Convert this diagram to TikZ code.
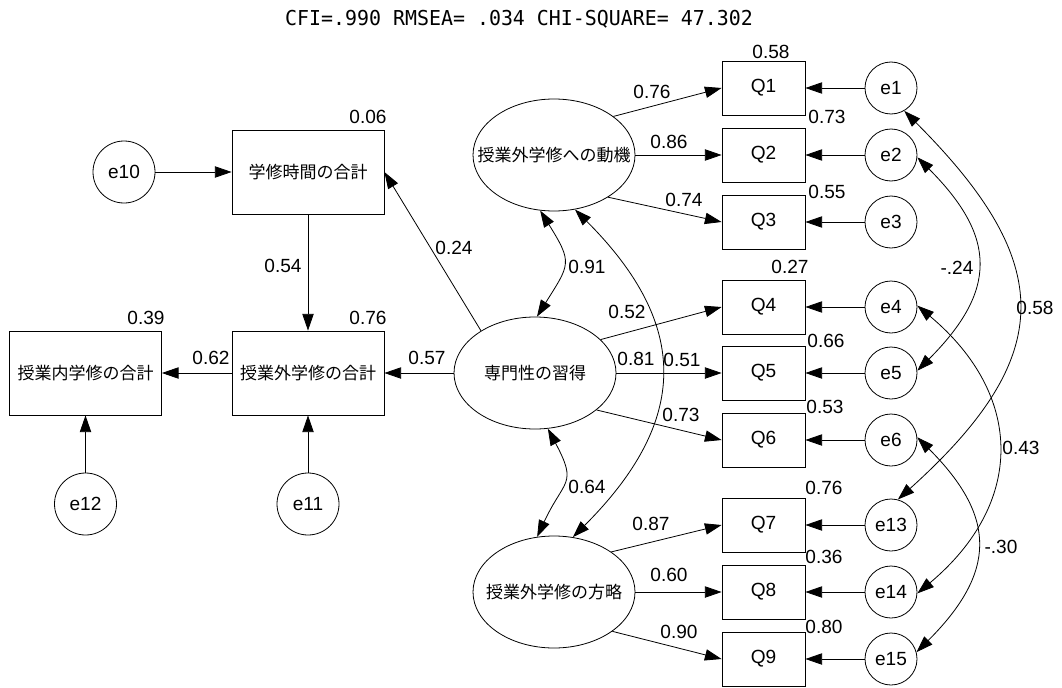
\documentclass[tikz,border=0pt]{standalone}
\usepackage{graphicx}
\usepackage{fontspec}
\setmainfont{Liberation Sans}
\newfontfamily\jp{Noto Sans CJK JP}
\newfontfamily\ttl{DejaVu Sans Mono}
\usetikzlibrary{arrows.meta,shapes.geometric}
\begin{document}
\begin{tikzpicture}[x=0.75pt,y=0.75pt,
  every node/.style={font=\fontsize{14.3}{16}\selectfont, inner sep=0pt},
  obs/.style={draw, rectangle, minimum width=62.25pt, minimum height=40.5pt, line width=0.6pt},
  big/.style={draw, rectangle, minimum width=114pt, minimum height=63pt, line width=0.6pt, font=\jp\fontsize{12.75}{15}\selectfont},
  lat/.style={draw, ellipse, minimum width=121.5pt, minimum height=84pt, line width=0.6pt},
  jpl/.style={font=\jp\fontsize{12.75}{15}\selectfont},
  err/.style={draw, circle, minimum size=39pt, line width=0.6pt},
  errb/.style={draw, circle, minimum size=46.5pt, line width=0.6pt},
  arr/.style={-{Triangle[length=12.5pt,width=8.5pt]}, line width=0.6pt},
  cov/.style={{Triangle[length=12.5pt,width=8.5pt]}-{Triangle[length=12.5pt,width=8.5pt]}, line width=0.6pt}]
\useasboundingbox (0,0) rectangle (1062,687);

\node[font=\ttl\fontsize{15.4}{18}\selectfont] (title) at (519,668) {\scalebox{0.97}[1]{CFI=.990 RMSEA= .034 CHI-SQUARE= 47.302}};

% observed indicators and errors
\foreach \n/\y in {1/599,2/532,3/465,4/380,5/314,6/247,7/162,8/95,9/28} {
  \node[obs] (q\n) at (763.5,\y) {Q\n};
}
\foreach \n/\m/\y in {1/1/599,2/2/532,3/3/465,4/4/380,5/5/314,6/6/247,13/7/162,14/8/95,15/9/28} {
  \node[err] (e\n) at (891,\y) {e\n};
  \draw[arr] (e\n) -- (q\m);
}

% latent factors
\node[lat] (f1) at (554,532) {};
\node[jpl] (f1t) at (f1) {授業外学修への動機};
\node[lat] (f2) at (535,314) {};
\node[jpl] (f2t) at (f2) {専門性の習得};
\node[lat] (f3) at (554,95) {};
\node[jpl] (f3t) at (f3) {授業外学修の方略};

% left part
\node[big] (b1) at (308,515) {学修時間の合計};
\node[big] (b2) at (308,314) {授業外学修の合計};
\node[big] (b3) at (85.5,314) {授業内学修の合計};
\node[errb] (e10) at (124,515) {e10};
\node[errb] (e11) at (308,183) {e11};
\node[errb] (e12) at (85.5,183) {e12};

\draw[arr] (e10) -- (b1);
\draw[arr] (b1) -- (b2);
\draw[arr] (e11) -- (b2);
\draw[arr] (e12) -- (b3);
\draw[arr] (b2) -- (b3);
\draw[arr] (f2) -- (b2);
\draw[arr] (f2.142) -- (b1.east);

% loadings
\draw[arr] (f1.33) -- (q1.west);
\draw[arr] (f1) -- (q2);
\draw[arr] (f1.-38) -- (q3.west);
\draw[arr] (f2.27) -- (q4.west);
\draw[arr] (f2) -- (q5);
\draw[arr] (f2.-31) -- (q6.west);
\draw[arr] (f3.35) -- (q7.west);
\draw[arr] (f3) -- (q8);
\draw[arr] (f3.-34) -- (q9.west);

% covariances
\draw[cov] (f1.-104) .. controls +(-58:62) and +(58:62) .. (f2.88);
\draw[cov] (f1.-69) .. controls +(-45:164) and +(45:164) .. (f3.71);
\draw[cov] (f2.-77) .. controls +(-62:64) and +(65:64) .. (f3.107);
\draw[cov] (e1.-60) .. controls +(-45:215) and +(42:215) .. (e13.75);
\draw[cov] (e2.-5) .. controls +(-45:113) and +(45:113) .. (e5.5);
\draw[cov] (e4.3) .. controls +(-40:140) and +(40:140) .. (e14.-3);
\draw[cov] (e6.6) .. controls +(-45:113) and +(45:113) .. (e15.15);

% squared multiple correlations
\node (r1) at (771,635) {0.58};
\node (r2) at (827,570) {0.73};
\node (r3) at (827,495) {0.55};
\node (r4) at (790,420) {0.27};
\node (r5) at (826,346) {0.66};
\node (r6) at (825,280) {0.53};
\node (r7) at (824,199) {0.76};
\node (r8) at (824,130) {0.36};
\node (r9) at (824,60) {0.80};
\node (r10) at (368,570) {0.06};
\node (r11) at (146,369) {0.39};
\node (r12) at (368,369) {0.76};

% path labels
\node (p1) at (652,595) {0.76};
\node (p2) at (669,545) {0.86};
\node (p3) at (684,487) {0.74};
\node (p4) at (627,375) {0.52};
\node (p5) at (636,328) {0.81};
\node (p6) at (682,327) {0.51};
\node (p7) at (681,272) {0.73};
\node (p8) at (651,163) {0.87};
\node (p9) at (669,112) {0.60};
\node (p10) at (679,55) {0.90};
\node (p11) at (454,439) {0.24};
\node (p12) at (283,421) {0.54};
\node (p13) at (211,329) {0.62};
\node (p14) at (427,329) {0.57};

% covariance labels
\node (c1) at (587,420) {0.91};
\node (c2) at (587,200) {0.64};
\node (c3) at (957,419) {-.24};
\node (c4) at (1035,379) {0.58};
\node (c5) at (1021,239) {0.43};
\node (c6) at (1001,140) {-.30};
\end{tikzpicture}
\end{document}
